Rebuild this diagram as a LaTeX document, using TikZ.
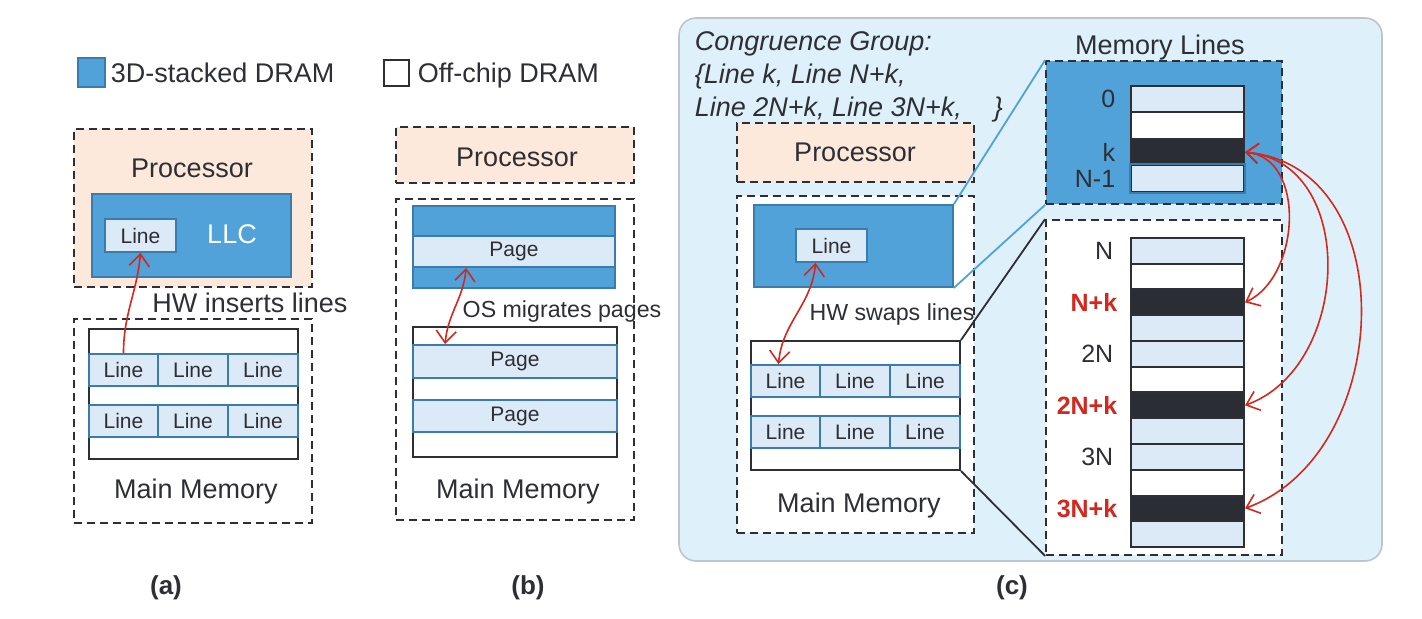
\documentclass[tikz,border=0pt]{standalone}
\usepackage{fontspec}
\setmainfont{Liberation Sans}
\usetikzlibrary{arrows.meta,positioning,fit}

\definecolor{memblue}{RGB}{80,162,216}
\definecolor{blueedge}{RGB}{58,124,173}
\definecolor{lineblue}{RGB}{220,233,246}
\definecolor{peach}{RGB}{253,233,220}
\definecolor{panelbg}{RGB}{222,240,249}
\definecolor{paneledge}{RGB}{190,196,202}
\definecolor{inkgray}{RGB}{45,47,52}
\definecolor{rowdark}{RGB}{43,45,52}
\definecolor{hotred}{RGB}{210,40,30}

\newcommand\szbig{\fontsize{13.5}{16.5}\selectfont}
\newcommand\szmid{\fontsize{11.6}{14}\selectfont}
\newcommand\szsmall{\fontsize{10.5}{12.5}\selectfont}
\newcommand\szidx{\fontsize{12.5}{15}\selectfont}
\newcommand\szcap{\fontsize{13}{15}\selectfont\bfseries}

\begin{document}
\begin{tikzpicture}[x=0.5pt,y=-0.5pt,thick,>={Straight Barb[length=6pt,width=10pt]},
    dashbox/.style={draw=inkgray,line width=0.9pt,dash pattern=on 4pt off 2.5pt,inner sep=0},
    stackbox/.style={draw=blueedge,fill=memblue,line width=0.9pt,inner sep=0},
    linecell/.style={draw=blueedge,fill=lineblue,line width=0.9pt,inner sep=0},
    celltext/.style={font=\szsmall,text=inkgray,inner sep=0},
    membox/.style={draw=inkgray,fill=white,line width=1pt,inner sep=0},
    rowcell/.style={draw=inkgray,line width=1pt,inner sep=0},
    bigtext/.style={font=\szbig,text=inkgray,inner sep=0,anchor=base},
    midtext/.style={font=\szmid,text=inkgray,inner sep=0,anchor=base},
    captext/.style={font=\szcap,text=inkgray,inner sep=0,anchor=base},
    idxlabel/.style={font=\szidx,text=inkgray,inner sep=1pt},
    hotlabel/.style={font=\szidx\bfseries,text=hotred,inner sep=1pt},
    redarrow/.style={draw=hotred,line width=0.8pt}]

  \useasboundingbox (0,0) rectangle (1422,619);

  % legend
  \node[stackbox,fit={(78,58) (105,87)}] (keyblue) {};
  \node[bigtext,anchor=base west] at (110,83) {3D-stacked DRAM};
  \node[membox,fit={(384,60) (409,86)}] (keywhite) {};
  \node[bigtext,anchor=base west] at (417,83) {Off-chip DRAM};

  % (a) cache
  \node[dashbox,fill=peach,fit={(74,129) (312,287)}] (aproc) {};
  \node[bigtext] at (192,178) {Processor};
  \node[stackbox,fit={(92,194) (291,277)}] (allc) {};
  \node[linecell,fit={(105,219) (176,252)},label={[celltext]center:Line}] (aline) {};
  \node[bigtext,text=white] at (232,244) {LLC};
  \node[dashbox,fit={(74,319) (312,523)}] (amain) {};
  \node[membox,fit={(89,329) (298,459)}] (aoff) {};
  \foreach \r/\ya/\yb in {1/354/386,2/405/437}
    \foreach \c/\xa/\xb in {1/89/158,2/158/228,3/228/298}
      \node[linecell,fit={(\xa,\ya) (\xb,\yb)},label={[celltext]center:Line}] (a\r\c) {};
  \node[bigtext] at (196,498) {Main Memory};
  \node[bigtext] at (250,313) {HW inserts lines};
  \draw[redarrow,->] (a11.north) to[out=90,in=-95] (aline.south);
  \node[captext] at (166,594) {(a)};

  % (b) pages
  \node[dashbox,fill=peach,fit={(396,127) (634,183)}] (bproc) {};
  \node[bigtext] at (517,167) {Processor};
  \node[dashbox,fit={(396,199) (634,520)}] (bmain) {};
  \node[stackbox,fit={(413,206) (615,288)}] (bblue) {};
  \node[linecell,fit={(413,236) (615,267)},label={[celltext]center:Page}] (bpage) {};
  \node[membox,fit={(413,327) (617,457)}] (boff) {};
  \node[linecell,fit={(413,345) (617,378)},label={[celltext]center:Page}] (bp1) {};
  \node[linecell,fit={(413,400) (617,432)},label={[celltext]center:Page}] (bp2) {};
  \node[midtext] at (562,318) {OS migrates pages};
  \node[bigtext] at (518,498) {Main Memory};
  \draw[redarrow,<->] ([xshift=27pt]bpage.south west) to[out=-95,in=85] ([xshift=16.5pt]bp1.north west);
  \node[captext] at (528,594) {(b)};

  % (c) swapping
  \node[draw=paneledge,fill=panelbg,line width=0.8pt,rounded corners=8.5pt,inner sep=0,
        fit={(679,18) (1382,561)}] (cpanel) {};
  \node[bigtext,anchor=base west,font=\szbig\itshape] at (694,51) {Congruence Group:};
  \node[bigtext,anchor=base west,font=\szbig\itshape] at (694,84) {\{Line k, Line N+k,};
  \node[bigtext,anchor=base west,font=\szbig\itshape] at (694,117) {Line 2N+k, Line 3N+k,\hspace{16pt}\}};
  \node[dashbox,fill=peach,fit={(737,123) (974,182)}] (cproc) {};
  \node[bigtext] at (855,162) {Processor};
  \node[dashbox,fill=white,fit={(737,196) (974,533)}] (cmain) {};
  \node[stackbox,fit={(754,205) (953,287)}] (cblue) {};
  \node[linecell,fit={(796,229) (867,262)},label={[celltext]center:Line}] (cline) {};
  \node[membox,fit={(751,341) (960,470)}] (coff) {};
  \foreach \r/\ya/\yb in {1/365/397,2/416/448}
    \foreach \c/\xa/\xb in {1/751/820,2/820/890,3/890/960}
      \node[linecell,fit={(\xa,\ya) (\xb,\yb)},label={[celltext]center:Line}] (c\r\c) {};
  \node[midtext] at (892,321) {HW swaps lines};
  \node[bigtext] at (859,512) {Main Memory};
  \draw[redarrow,<->] ([xshift=-8pt]cline.south) to[out=-95,in=85] ([xshift=-3.5pt]c11.north);

  % memory lines
  \node[bigtext] at (1160,55) {Memory Lines};
  \node[dashbox,fill=memblue,fit={(1046,61) (1282,204)}] (upmem) {};
  \node[dashbox,fill=white,fit={(1046,220) (1282,555)}] (lowmem) {};
  \foreach \i/\f in {0/lineblue,1/white,2/rowdark,3/lineblue} {
    \pgfmathsetmacro\ya{86+26.5*\i}
    \pgfmathsetmacro\yb{\ya+26.5}
    \node[rowcell,fill=\f,fit={(1131,\ya) (1244,\yb)}] (u\i) {};
  }
  \draw[blueedge,line width=1pt] (u3.north west) rectangle (u3.south east);
  \foreach \i/\f in {0/lineblue,1/white,2/rowdark,3/lineblue,4/lineblue,5/white,
                     6/rowdark,7/lineblue,8/lineblue,9/white,10/rowdark,11/lineblue} {
    \pgfmathsetmacro\ya{238+25.75*\i}
    \pgfmathsetmacro\yb{\ya+25.75}
    \node[rowcell,fill=\f,fit={(1131,\ya) (1244,\yb)}] (m\i) {};
  }
  \node[idxlabel,left=6pt of u0] {0};
  \node[idxlabel,left=6pt of u2] {k};
  \node[idxlabel,left=6pt of u3] {N-1};
  \node[idxlabel,left=7pt of m0] {N};
  \node[hotlabel,left=5pt of m2] {N+k};
  \node[idxlabel,left=7pt of m4] {2N};
  \node[hotlabel,left=5pt of m6] {2N+k};
  \node[idxlabel,left=7pt of m8] {3N};
  \node[hotlabel,left=5pt of m10] {3N+k};

  % zoom lines
  \draw[memblue,line width=0.9pt] (cblue.north east) -- (upmem.north west);
  \draw[memblue,line width=0.9pt] (cblue.south east) -- (upmem.south west);
  \draw[inkgray,line width=0.9pt] (coff.north east) -- (lowmem.north west);
  \draw[inkgray,line width=0.9pt] (coff.south east) -- (lowmem.south west);

  % swaps
  \draw[redarrow,<->] (u2.east) to[out=-5,in=25,looseness=1.05] (m2.east);
  \draw[redarrow,<->] (u2.east) to[out=-5,in=20,looseness=1.15] (m6.east);
  \draw[redarrow,<->] (u2.east) to[out=-5,in=20,looseness=1.15] (m10.east);
  \node[captext] at (1012,594) {(c)};
\end{tikzpicture}
\end{document}
